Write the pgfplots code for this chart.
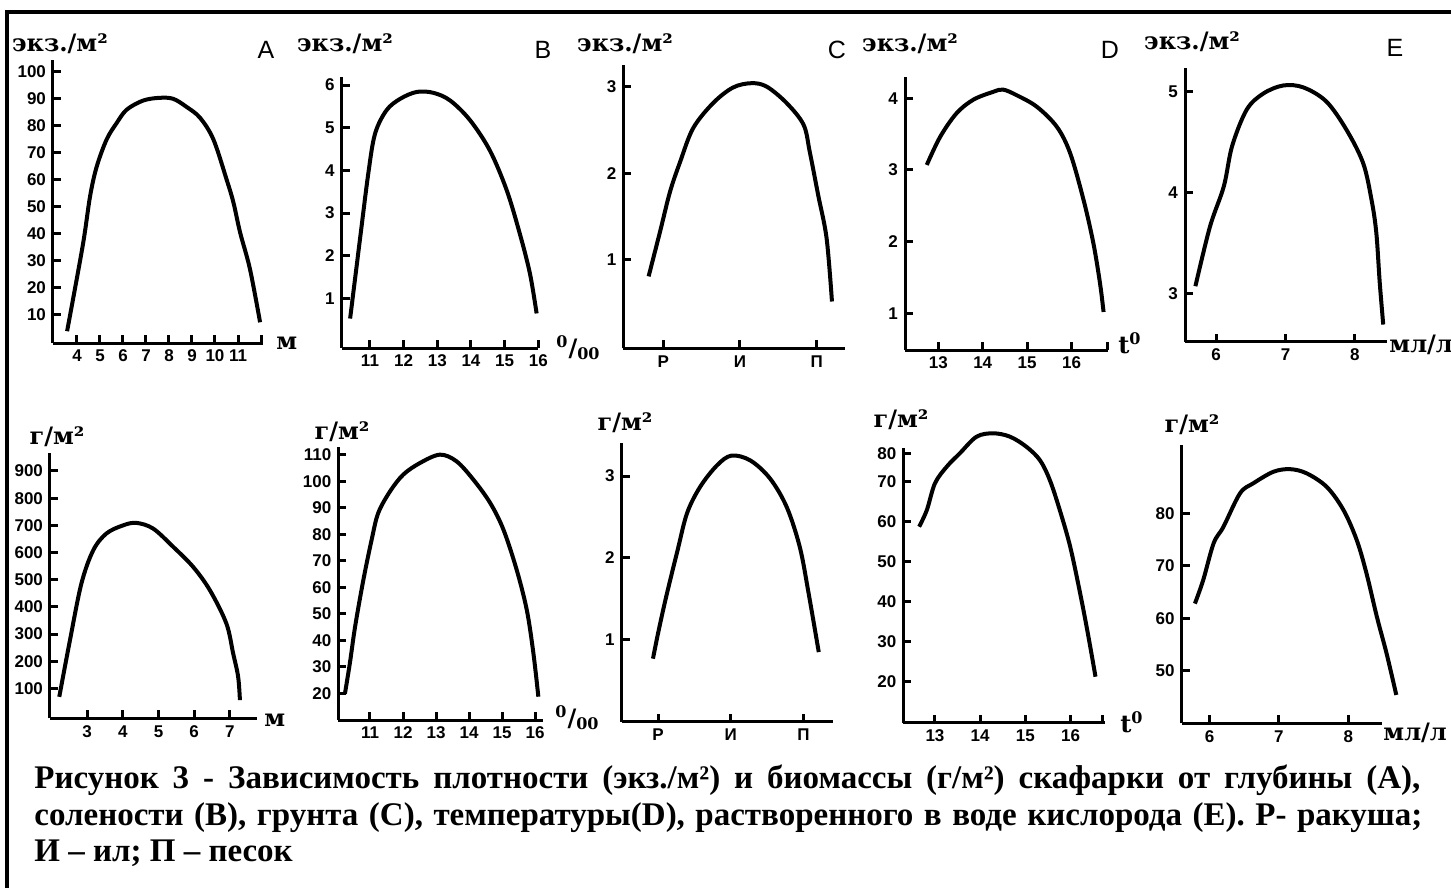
\documentclass[border=0pt]{standalone}
\usepackage{pgfplots}
\pgfplotsset{compat=1.18}
\usepackage{fontspec}
\setmainfont{Liberation Serif}
\newfontfamily\sansf{Liberation Sans}
\newfontfamily\dvs{DejaVu Serif}

\pgfplotsset{
 panel/.style={
  scale only axis, anchor=south west,
  axis lines=left,
  axis line style={-, line width=1.5pt},
  tick style={black, line width=1.5pt},
  major tick length=4pt,
  tick align=inside,
  tick label style={font=\sansf\bfseries\fontsize{8.5}{9}\selectfont},
  /pgf/number format/assume math mode=true,
  scaled ticks=false,
  clip=false,
 },
 curve/.style={black, line width=2pt, smooth, tension=0.55, mark=none},
}

\begin{document}
\begin{tikzpicture}
\begin{scope}[x=0.5pt,y=-0.5pt]
\useasboundingbox (0,0) rectangle (1451,888);
\draw[line width=2pt] (7,888) -- (7,12) -- (1451,12);
\tikzset{ylab/.style={font=\dvs\bfseries\fontsize{12}{13}\selectfont, inner sep=0pt},
         plet/.style={font=\sansf\fontsize{12.5}{13}\selectfont, inner sep=0pt},
         captext/.style={anchor=base west, font=\bfseries\fontsize{16.5}{18}\selectfont, inner sep=0pt}}
% top row y labels
\node[ylab] at (60,44) {экз./м²};
\node[ylab] at (345,44) {экз./м²};
\node[ylab] at (625,44) {экз./м²};
\node[ylab] at (910,44) {экз./м²};
\node[ylab] at (1192,42) {экз./м²};
% letters
\node[plet] at (266,50) {A};
\node[plet] at (543,50) {B};
\node[plet] at (837,50) {C};
\node[plet] at (1110,50) {D};
\node[plet] at (1395,48) {E};
% bottom row y labels
\node[ylab] at (57,437) {г/м²};
\node[ylab] at (342,432) {г/м²};
\node[ylab] at (625,423) {г/м²};
\node[ylab] at (901,420) {г/м²};
\node[ylab] at (1192,425) {г/м²};
% unit labels
\node[ylab, anchor=west] at (276,343) {м};
\node[ylab, anchor=west] at (556,348) {\textsuperscript{0}/\textsubscript{00}};
\node[ylab, anchor=west] at (1118,343) {t\textsuperscript{0}};
\node[ylab, anchor=west] at (1389,345) {мл/л};
\node[ylab, anchor=west] at (264,720) {м};
\node[ylab, anchor=west] at (555,718) {\textsuperscript{0}/\textsubscript{00}};
\node[ylab, anchor=west] at (1120,722) {t\textsuperscript{0}};
\node[ylab, anchor=west] at (1383,733) {мл/л};
% caption (justified lines)
\node[captext] at (34,788) {\hbox to 693pt{Рисунок 3 - Зависимость плотности (экз./м²) и биомассы (г/м²) скафарки от глубины (А),}};
\node[captext] at (34,825) {\hbox to 694pt{солености (В), грунта (С), температуры(D), растворенного в воде кислорода (Е). Р- ракуша;}};
\node[captext] at (34,861) {И – ил; П – песок};
\end{scope}

% ---------- top row ----------
\begin{axis}[panel, at={(26.5pt,-171.5pt)}, width=105pt, height=141.5pt,
  xmin=2.957, xmax=12.087, ymin=-0.37, ymax=104.4,
  xtick={4,...,12}, xticklabels={4,5,6,7,8,9,10,11,{}},
  ytick={10,20,...,100}]
\addplot[curve] coordinates {(3.57,4) (4.25,35.7) (4.57,54) (4.86,65) (5.29,75) (5.72,81) (6.16,86) (6.88,89.4) (7.6,90.4) (8.19,90) (8.77,87) (9.35,83) (9.93,75) (10.51,60) (10.8,51.7) (11.09,40.6) (11.52,27) (11.96,7.3)};
\end{axis}

\begin{axis}[panel, at={(170.85pt,-174pt)}, width=98.3pt, height=135.5pt,
  xmin=10.16, xmax=16, ymin=-0.16, ymax=6.19,
  xtick={11,...,16}, ytick={1,...,6}]
\addplot[curve] coordinates {(10.41,0.53) (10.70,2.37) (10.95,3.93) (11.15,4.86) (11.49,5.41) (11.90,5.68) (12.39,5.84) (12.88,5.82) (13.38,5.64) (13.97,5.18) (14.56,4.47) (15.06,3.54) (15.45,2.52) (15.75,1.59) (15.95,0.65)};
\end{axis}

\begin{axis}[panel, at={(311.65pt,-174.15pt)}, width=110.85pt, height=141.65pt,
  xmin=0.48, xmax=3.37, ymin=-0.02, ymax=3.25,
  xtick={1,2,3}, xticklabels={Р,И,П}, ytick={1,2,3}]
\addplot[curve] coordinates {(0.81,0.81) (0.96,1.33) (1.09,1.79) (1.22,2.13) (1.39,2.52) (1.65,2.81) (1.91,2.99) (2.15,3.04) (2.35,3.0) (2.61,2.81) (2.83,2.56) (2.91,2.25) (3.02,1.75) (3.13,1.25) (3.2,0.52)};
\end{axis}

\begin{axis}[panel, at={(452.5pt,-175pt)}, width=101.5pt, height=136.65pt,
  xmin=12.25, xmax=16.82, ymin=0.49, ymax=4.3,
  xtick={13,14,15,16,16.8}, xticklabels={13,14,15,16,{}}, ytick={1,2,3,4}]
\addplot[curve] coordinates {(12.74,3.07) (13.04,3.46) (13.41,3.79) (13.79,3.98) (14.24,4.09) (14.46,4.12) (14.77,4.04) (15.22,3.88) (15.67,3.6) (15.97,3.23) (16.27,2.58) (16.49,1.98) (16.64,1.42) (16.72,1.02)};
\end{axis}

\begin{axis}[panel, at={(592.5pt,-170.85pt)}, width=100.85pt, height=136.7pt,
  xmin=5.55, xmax=8.46, ymin=2.52, ymax=5.23,
  xtick={6,7,8}, ytick={3,4,5}]
\addplot[curve] coordinates {(5.70,3.07) (5.91,3.66) (6.11,4.06) (6.23,4.46) (6.44,4.82) (6.68,4.98) (6.97,5.06) (7.26,5.04) (7.59,4.9) (7.88,4.62) (8.12,4.29) (8.24,3.93) (8.31,3.6) (8.36,3.1) (8.41,2.69)};
\end{axis}

% ---------- bottom row ----------
\begin{axis}[panel, at={(25pt,-359.15pt)}, width=103.35pt, height=132.5pt,
  xmin=1.96, xmax=7.75, ymin=-10, ymax=965,
  xtick={3,...,7}, ytick={100,200,...,900}]
\addplot[curve] coordinates {(2.22,69) (2.52,278) (2.84,486) (3.17,608) (3.54,670) (4.01,700) (4.38,709) (4.85,688) (5.41,621) (5.97,547) (6.44,461) (6.9,339) (7.09,229) (7.23,143) (7.28,57)};
\end{axis}

\begin{axis}[panel, at={(169.15pt,-360pt)}, width=102.5pt, height=136.65pt,
  xmin=10.04, xmax=16.25, ymin=9.9, ymax=113,
  xtick={11,...,16}, ytick={20,30,...,110}]
\addplot[curve] coordinates {(10.24,19.8) (10.39,31.3) (10.55,45.2) (10.8,62.8) (11.05,77.9) (11.25,88) (11.61,96.2) (12.01,102.5) (12.52,106.9) (13.12,110) (13.62,107.5) (14.13,100.6) (14.64,91.8) (15.04,81.8) (15.44,66.7) (15.75,51.4) (15.95,35.1) (16.1,18.7)};
\end{axis}

\begin{axis}[panel, at={(310.85pt,-360.85pt)}, width=105.8pt, height=139.2pt,
  xmin=0.5, xmax=3.41, ymin=0, ymax=3.4,
  xtick={1,2,3}, xticklabels={Р,И,П}, ytick={1,2,3}]
\addplot[curve] coordinates {(0.93,0.77) (1.0,1.08) (1.11,1.52) (1.27,2.1) (1.4,2.55) (1.58,2.87) (1.81,3.13) (2.01,3.25) (2.27,3.19) (2.54,2.97) (2.77,2.62) (2.95,2.13) (3.07,1.57) (3.21,0.85)};
\end{axis}

\begin{axis}[panel, at={(451.65pt,-361.35pt)}, width=100.85pt, height=137.2pt,
  xmin=12.3, xmax=16.76, ymin=9.75, ymax=78.35,
  xtick={13,14,15,16,16.7}, xticklabels={13,14,15,16,{}},
  ytick={20,30,40,50,60,70,77.1}, yticklabels={20,30,40,50,60,70,80}]
\addplot[curve] coordinates {(12.65,58.75) (12.82,62.9) (13.0,69.6) (13.26,73.75) (13.55,77.1) (13.92,81.25) (14.29,82.1) (14.66,81.25) (15.02,78.75) (15.32,75.4) (15.54,70.4) (15.76,62.9) (15.99,53.75) (16.21,42.1) (16.38,32.1) (16.55,21.25)};
\end{axis}

\begin{axis}[panel, at={(590.85pt,-361.65pt)}, width=100pt, height=139.15pt,
  xmin=5.6, xmax=8.48, ymin=40, ymax=93,
  xtick={6,7,8}, ytick={50,60,70,80}]
\addplot[curve] coordinates {(5.79,62.8) (5.91,67.3) (6.06,74.3) (6.2,77.4) (6.44,83.8) (6.63,85.7) (6.92,87.9) (7.16,88.4) (7.4,87.6) (7.69,85) (7.93,80.6) (8.12,74.9) (8.26,68.6) (8.41,60.3) (8.55,53.3) (8.69,45.4)};
\end{axis}
\end{tikzpicture}
\end{document}
